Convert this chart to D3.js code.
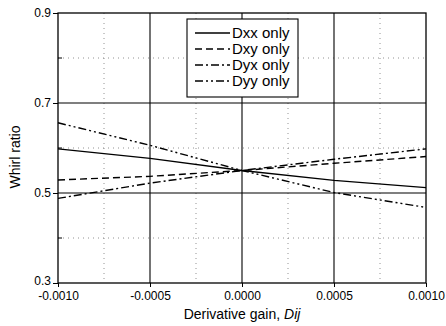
<!DOCTYPE html>
<html>
<head>
<meta charset="utf-8">
<script src="https://cdn.jsdelivr.net/npm/d3@7"></script>
<style>
  body { margin: 0; background: #fff; }
  text { font-family: "Liberation Sans", Arial, sans-serif; fill: #000; }
</style>
</head>
<body>
<svg id="chart" width="446" height="326"></svg>
<script>
// Data
var gains = [-0.001, -0.0005, 0, 0.0005, 0.001];
var dxx = [0.598, 0.577, 0.55, 0.528, 0.512];
var dxy = [0.529, 0.537, 0.55, 0.566, 0.581];
var dyx = [0.488, 0.522, 0.55, 0.575, 0.598];
var dyy = [0.656, 0.606, 0.55, 0.501, 0.468];
var seriesNames = ["Dxx only", "Dxy only", "Dyx only", "Dyy only"];
var xTicks = [-0.001, -0.0005, 0, 0.0005, 0.001];
var xMinor = [-0.00075, -0.00025, 0.00025, 0.00075];
var yTicks = [0.3, 0.5, 0.7, 0.9];
var yMinor = [0.4, 0.6, 0.8];

var dashes = ["none", "7,4", "8,3,2,3", "8,3,2,3,2,3"];
var series = [dxx, dxy, dyx, dyy].map((Values, I) => ({
    Name: seriesNames[I], Dash: dashes[I],
    Points: gains.map((G, J) => [G, Values[J]])
}));

var svg = d3.select("#chart");
var X = d3.scaleLinear().domain([-0.001, 0.001]).range([58, 426]);
var Y = d3.scaleLinear().domain([0.3, 0.9]).range([283, 13]);

// Minor dotted grid
var grid = svg.append("g");
grid.selectAll(".vminor").data(xMinor).join("line")
    .attr("x1", d => X(d)).attr("x2", d => X(d)).attr("y1", Y(0.9)).attr("y2", Y(0.3))
    .attr("stroke", "#777").attr("stroke-width", 0.8).attr("stroke-dasharray", "1,4");
grid.selectAll(".hminor").data(yMinor).join("line")
    .attr("y1", d => Y(d)).attr("y2", d => Y(d)).attr("x1", X(-0.001)).attr("x2", X(0.001))
    .attr("stroke", "#777").attr("stroke-width", 0.8).attr("stroke-dasharray", "1,4");
// Major solid grid
grid.selectAll(".vmajor").data([-0.0005, 0, 0.0005]).join("line")
    .attr("x1", d => X(d)).attr("x2", d => X(d)).attr("y1", Y(0.9)).attr("y2", Y(0.3))
    .attr("stroke", "#000").attr("stroke-width", 1.1);
grid.selectAll(".hmajor").data([0.5, 0.7]).join("line")
    .attr("y1", d => Y(d)).attr("y2", d => Y(d)).attr("x1", X(-0.001)).attr("x2", X(0.001))
    .attr("stroke", "#000").attr("stroke-width", 1.1);

// Frame
svg.append("rect")
    .attr("x", X(-0.001)).attr("y", Y(0.9))
    .attr("width", X(0.001) - X(-0.001)).attr("height", Y(0.3) - Y(0.9))
    .attr("fill", "none").attr("stroke", "#000").attr("stroke-width", 1.3);

// Axes
var xAxis = svg.append("g").attr("transform", `translate(0,${Y(0.3)})`)
    .call(d3.axisBottom(X).tickValues(xTicks).tickFormat(d3.format(".4f")).tickSize(4).tickPadding(4));
xAxis.select(".domain").remove();
xAxis.selectAll("text").attr("font-size", 12).attr("font-family", "Liberation Sans, Arial, sans-serif")
    .text(d => d3.format(".4f")(d).replace("−", "-"));
var yAxis = svg.append("g").attr("transform", `translate(${X(-0.001)},0)`)
    .call(d3.axisLeft(Y).tickValues(yTicks).tickFormat(d3.format(".1f")).tickSize(5).tickPadding(2));
yAxis.select(".domain").remove();
yAxis.selectAll("text").attr("font-size", 12).attr("font-family", "Liberation Sans, Arial, sans-serif");
yAxis.selectAll(".tick").filter(d => d === 0.3).select("text").attr("dy", "0.1em");
// Minor inward ticks on left axis
svg.append("g").selectAll("line").data(yMinor).join("line")
    .attr("x1", X(-0.001)).attr("x2", X(-0.001) + 4).attr("y1", d => Y(d)).attr("y2", d => Y(d))
    .attr("stroke", "#000");

// Series lines
var Line = d3.line().x(d => X(d[0])).y(d => Y(d[1]));
svg.append("g").selectAll("path").data(series).join("path")
    .attr("d", d => Line(d.Points))
    .attr("fill", "none").attr("stroke", "#000").attr("stroke-width", 1.4)
    .attr("stroke-dasharray", d => d.Dash);

// Axis titles
var xTitle = svg.append("text").attr("x", X(0)).attr("y", 319)
    .attr("text-anchor", "middle").attr("font-size", 14);
xTitle.append("tspan").text("Derivative gain, ");
xTitle.append("tspan").attr("font-style", "italic").text("Dij");
svg.append("text").attr("transform", "translate(20,157) rotate(-90)")
    .attr("text-anchor", "middle").attr("font-size", 14).text("Whirl ratio");

// Legend
var legend = svg.append("g");
legend.append("rect").attr("x", 187).attr("y", 19).attr("width", 111).attr("height", 78)
    .attr("fill", "#fff").attr("stroke", "#000").attr("stroke-width", 1.1);
var rows = legend.selectAll(".row").data(series).join("g")
    .attr("transform", (d, I) => `translate(0,${33 + I * 16})`);
rows.append("line").attr("x1", 195).attr("x2", 230).attr("y1", 0).attr("y2", 0)
    .attr("stroke", "#000").attr("stroke-width", 1.4).attr("stroke-dasharray", d => d.Dash);
rows.append("text").attr("x", 232).attr("y", 5).attr("font-size", 15).text(d => d.Name);
</script>
</body>
</html>
